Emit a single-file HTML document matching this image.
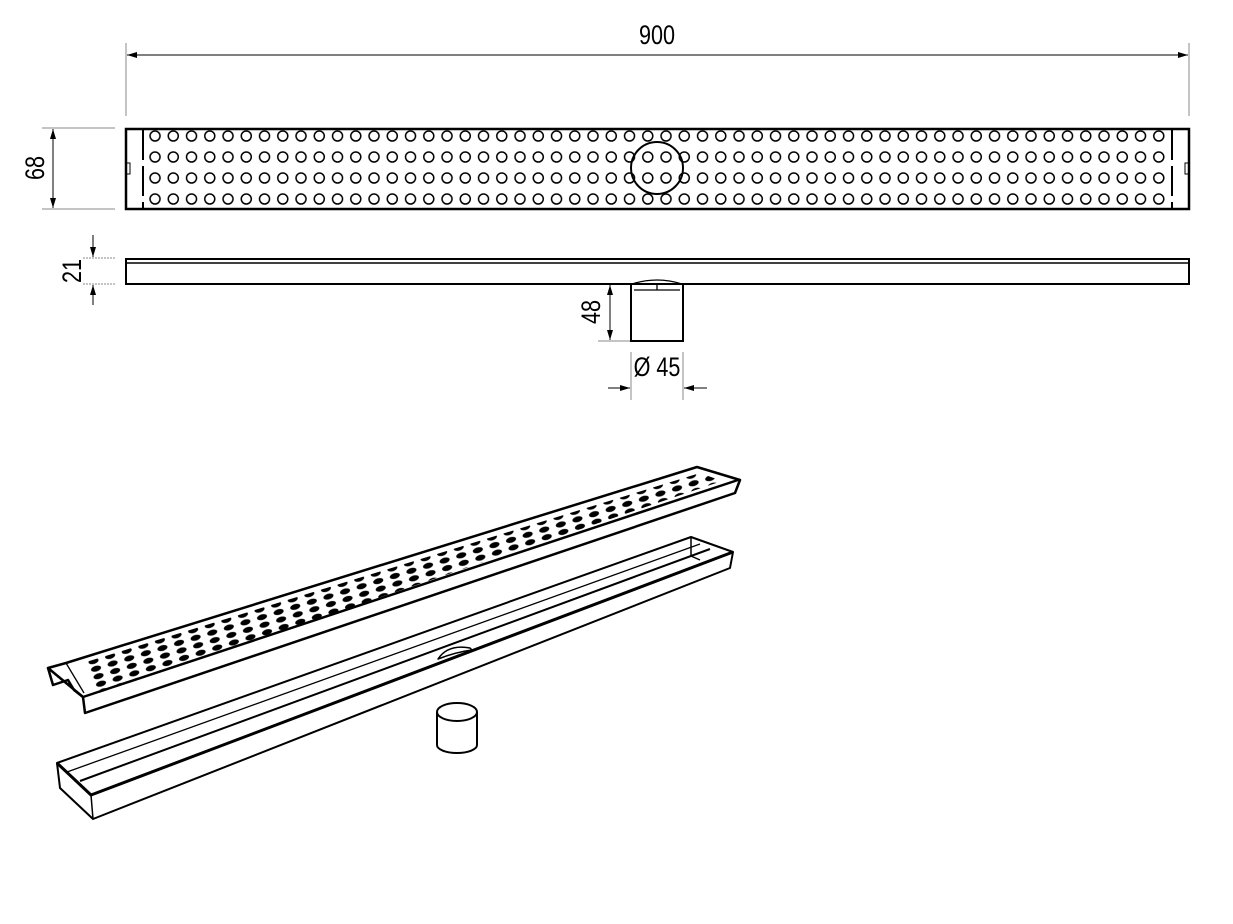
<!DOCTYPE html>
<html><head><meta charset="utf-8"><style>
html,body{margin:0;padding:0;background:#fff;}
svg{display:block;}
text{font-family:"Liberation Sans",sans-serif;fill:#000;}
</style></head><body>
<svg width="1233" height="924" viewBox="0 0 1233 924" xmlns="http://www.w3.org/2000/svg">
<defs>
<pattern id="tp" patternUnits="userSpaceOnUse" x="145.9" y="125.5" width="18.25" height="21">
<circle cx="9.125" cy="10.5" r="5" fill="#fff" stroke="#000" stroke-width="1.5"/>
</pattern>
<pattern id="ip" patternUnits="userSpaceOnUse" width="1" height="1" patternTransform="matrix(16.6,-5.15,2.5,7.5,84,660)">
<ellipse cx="0.5" cy="0.5" rx="0.3" ry="0.36" fill="#000"/>
</pattern>
<clipPath id="gc"><polygon points="86,662 700,473 722,481 96,694"/></clipPath>
<marker id="ar" viewBox="0 0 10 6" refX="10" refY="3" markerWidth="10" markerHeight="6" orient="auto-start-reverse" markerUnits="userSpaceOnUse">
<path d="M0,0 L10,3 L0,6z" fill="#000"/>
</marker>
</defs>

<g stroke="#888" stroke-width="1">
<line x1="126" y1="43" x2="126" y2="116"/>
<line x1="1189" y1="43" x2="1189" y2="116"/>
<line x1="42" y1="128" x2="115" y2="128"/>
<line x1="42" y1="209" x2="115" y2="209"/>
<line x1="83" y1="258" x2="115" y2="258" stroke-dasharray="2,1"/>
<line x1="83" y1="284" x2="115" y2="284" stroke-dasharray="2,1"/>
<line x1="598" y1="341" x2="630" y2="341"/>
<line x1="631" y1="352" x2="631" y2="400"/>
<line x1="683" y1="352" x2="683" y2="400"/>
</g>
<g stroke="#000" stroke-width="1">
<line x1="127" y1="55" x2="1188" y2="55" marker-start="url(#ar)" marker-end="url(#ar)"/>
<line x1="53" y1="129" x2="53" y2="208" marker-start="url(#ar)" marker-end="url(#ar)"/>
<line x1="93" y1="235" x2="93" y2="257" marker-end="url(#ar)"/>
<line x1="93" y1="305" x2="93" y2="285" marker-end="url(#ar)"/>
<line x1="610" y1="285" x2="610" y2="340" marker-start="url(#ar)" marker-end="url(#ar)"/>
<line x1="608" y1="388" x2="630" y2="388" marker-end="url(#ar)"/>
<line x1="707" y1="388" x2="684" y2="388" marker-end="url(#ar)"/>
</g>
<text transform="translate(657,44) scale(0.8,1)" font-size="27" text-anchor="middle">900</text>
<text transform="translate(44,168) rotate(-90) scale(0.8,1)" font-size="27" text-anchor="middle">68</text>
<text transform="translate(81,271) rotate(-90) scale(0.8,1)" font-size="27" text-anchor="middle">21</text>
<text transform="translate(600,312) rotate(-90) scale(0.8,1)" font-size="27" text-anchor="middle">48</text>
<text transform="translate(657,376) scale(0.8,1)" font-size="27" text-anchor="middle">Ø 45</text>

<rect x="126" y="129" width="1063" height="80" fill="#fff" stroke="#000" stroke-width="2.5"/>
<rect x="146" y="126" width="1022" height="84" fill="url(#tp)"/>
<line x1="143" y1="130" x2="143" y2="208" stroke="#000" stroke-width="2" stroke-dasharray="30,6"/>
<line x1="1172" y1="130" x2="1172" y2="208" stroke="#000" stroke-width="2" stroke-dasharray="30,6"/>
<path d="M127,163 h3 v11 h-3" fill="none" stroke="#000" stroke-width="1"/>
<path d="M1188,163 h-3 v11 h3" fill="none" stroke="#000" stroke-width="1"/>
<circle cx="657" cy="168" r="26" fill="none" stroke="#000" stroke-width="2"/>

<rect x="126" y="259" width="1063" height="25" fill="#fff" stroke="#000" stroke-width="2"/>
<line x1="126" y1="263" x2="1189" y2="263" stroke="#000" stroke-width="1.5"/>
<rect x="631" y="284" width="52" height="57" fill="#fff" stroke="#000" stroke-width="2"/>
<path d="M632,284 Q657,276 682,284 M634,290 L680,290 M657,284 L657,290" fill="none" stroke="#000" stroke-width="1.3"/>

<g stroke="#000" stroke-width="2.5" stroke-linejoin="round" fill="#fff">
<polygon points="66,663 697,467 740,480 735,493 85,713 83,697 48,668"/>
<polyline fill="none" points="83,697 738,480"/>
<polyline fill="none" points="48,668 53,685 68,680 74,690 83,697"/>
<polyline fill="none" points="66,663 84,693" stroke-width="1.3"/>
<polyline fill="none" points="697,467 715,472 738,480" stroke-width="1.3"/>
</g>
<rect x="80" y="460" width="650" height="240" fill="url(#ip)" clip-path="url(#gc)"/>

<g stroke="#000" stroke-linejoin="round" fill="#fff">
<polygon points="57,763 691,537 733,552 730,568 93,819 60,788" stroke-width="2"/>
<polyline fill="none" points="57,763 91,795 733,552" stroke-width="3"/>
<polyline fill="none" points="91,795 93,819" stroke-width="1.5"/>
<polyline fill="none" points="80,781 710,549" stroke-width="2"/>
<polyline fill="none" points="67,772 700,544" stroke-width="1.3"/>
<polyline fill="none" points="691,537 691,556 700,560" stroke-width="1.5"/>
<path d="M438,659 Q448,644 470,648 L472,650 Q456,652 438,659z" stroke-width="1.5"/>
</g>

<g stroke="#000" stroke-width="2" fill="#fff">
<path d="M437,712 L437,745 A20,8 0 0 0 477,745 L477,712"/>
<ellipse cx="457" cy="712" rx="20" ry="9"/>
</g>
</svg>
</body></html>
